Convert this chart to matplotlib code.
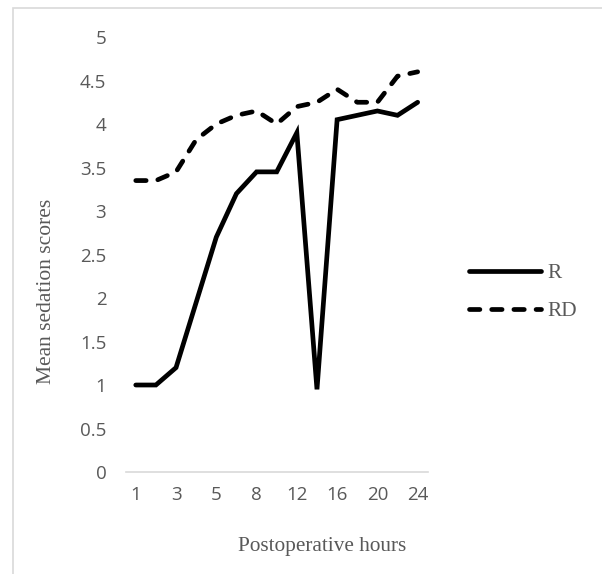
import numpy as np
import matplotlib
matplotlib.use('Agg')
import matplotlib.pyplot as plt
from matplotlib.patches import Rectangle

# data
hours = ['1', '2', '3', '4', '5', '6', '8', '10', '12', '14', '16', '18', '20', '22', '24']
r_scores = [1.0, 1.0, 1.2, 1.95, 2.7, 3.2, 3.45, 3.45, 3.9, 0.95, 4.05, 4.1, 4.15, 4.1, 4.25]
rd_scores = [3.35, 3.35, 3.45, 3.82, 4.0, 4.1, 4.15, 4.0, 4.2, 4.25, 4.4, 4.25, 4.25, 4.55, 4.6]
y_ticks = np.arange(0, 5.01, 0.5)

gray = '#595959'
light = '#d9d9d9'

fig = plt.figure(figsize=(6.02, 5.74), dpi=100)
ax = fig.add_axes([0.2088, 0.1777, 0.5017, 0.7578])

x = np.arange(len(hours))
ax.plot(x, r_scores, color='black', lw=3.4, solid_capstyle='round',
        solid_joinstyle='miter', label='R')
ax.plot(x, rd_scores, color='black', lw=3.4, linestyle=(0, (2.2, 2.5)),
        dash_capstyle='round', label='RD')

ax.set_xlim(-0.5, len(hours) - 0.5)
ax.set_ylim(0, 5)
ax.set_xticks(x)
ax.set_xticklabels([h if i % 2 == 0 else '' for i, h in enumerate(hours)])
ax.set_yticks(y_ticks)
ax.set_yticklabels(['%g' % v for v in y_ticks])

for s in ['top', 'right', 'left']:
    ax.spines[s].set_visible(False)
ax.spines['bottom'].set_color(light)
ax.spines['bottom'].set_linewidth(1.2)
ax.tick_params(axis='both', length=0, labelsize=13.5, labelcolor=gray)
ax.tick_params(axis='y', pad=14)
ax.tick_params(axis='x', pad=10)
for lab in ax.get_xticklabels() + ax.get_yticklabels():
    lab.set_fontfamily('Open Sans')

fig.text(0.535, 0.0476, 'Postoperative hours', ha='center', va='center',
         fontsize=15.3, color=gray, family='Liberation Serif')
fig.text(0.078, 0.492, 'Mean sedation scores', ha='center', va='center',
         rotation=90, fontsize=15.5, color=gray, family='Liberation Serif')

leg = fig.legend(loc='center left', bbox_to_anchor=(0.779, 0.4905), frameon=False,
                 handlelength=3.4, handletextpad=0.28, labelspacing=0.85,
                 borderpad=0, borderaxespad=0,
                 prop={'family': 'Liberation Serif', 'size': 15.3})
for t in leg.get_texts():
    t.set_color(gray)

# chart border (only left and top edges visible in the crop)
fig.patches.append(Rectangle((12.5 / 602, -0.2), 1.0, 0.2 + (574 - 7.7) / 574,
                             transform=fig.transFigure, fill=False,
                             edgecolor=light, lw=1.2))

fig.savefig('out.png', dpi=100)
